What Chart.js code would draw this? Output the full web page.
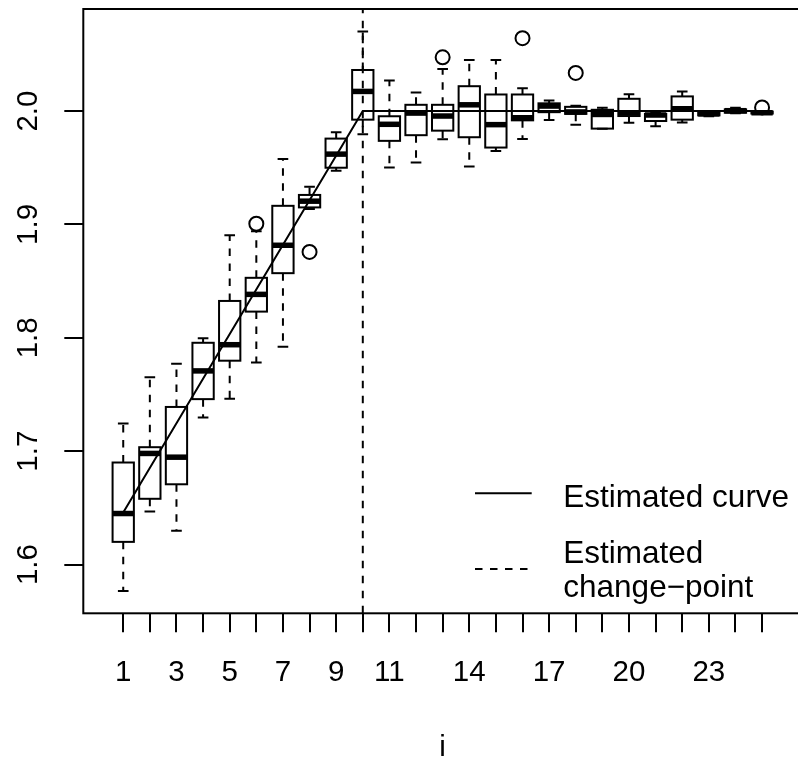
<!DOCTYPE html>
<html>
<head>
<meta charset="utf-8">
<script src="https://cdn.jsdelivr.net/npm/chart.js@4.4.0/dist/chart.umd.min.js"></script>
<style>
html, body { margin: 0; padding: 0; background: #fff; overflow: hidden; }
#wrap { width: 811px; height: 763px; }
</style>
</head>
<body>
<div id="wrap"><canvas id="cpChart" width="811" height="763"></canvas></div>
<script>
// box statistics per index i: lower whisker, Q1, median, Q3, upper whisker
var idx      = [1, 2, 3, 4, 5, 6, 7, 8, 9, 10, 11, 12, 13, 14, 15, 16, 17, 18, 19, 20, 21, 22, 23, 24, 25];
var whiskLo  = [1.5766, 1.6468, 1.6298, 1.7296, 1.7462, 1.7781, 1.7921, 1.9135, 1.9474, 1.9796, 1.9503, 1.9547, 1.9752,
                1.9511, 1.9647, 1.9754, 1.9920, 1.9880, 1.9843, 1.9897, 1.9866, 1.9898, 1.9955, 1.9980, 1.9975];
var q1       = [1.6200, 1.6580, 1.6708, 1.7459, 1.7798, 1.8231, 1.8570, 1.9150, 1.9500, 1.9924, 1.9737, 1.9787, 1.9827,
                1.9769, 1.9678, 1.9918, 1.9990, 1.9975, 1.9845, 1.9956, 1.9912, 1.9924, 1.9962, 1.9985, 1.9978];
var med      = [1.6450, 1.6980, 1.6947, 1.7708, 1.7939, 1.8383, 1.8816, 1.9205, 1.9620, 2.0173, 1.9883, 1.9982, 1.9956,
                2.0055, 1.9880, 1.9941, 2.0044, 1.9992, 1.9970, 1.9985, 1.9965, 2.0020, 1.9975, 2.0003, 1.9985];
var q3       = [1.6900, 1.7035, 1.7390, 1.7956, 1.8325, 1.8529, 1.9164, 1.9260, 1.9757, 2.0362, 1.9954, 2.0055, 2.0055,
                2.0219, 2.0146, 2.0146, 2.0068, 2.0037, 2.0011, 2.0108, 1.9975, 2.0129, 1.9985, 2.0015, 1.9995];
var whiskHi  = [1.7243, 1.7652, 1.7770, 1.7997, 1.8904, 1.8939, 1.9576, 1.9333, 1.9813, 2.0702, 2.0269, 2.0164, 2.0371,
                2.0450, 2.0450, 2.0202, 2.0094, 2.0047, 2.0030, 2.0149, 1.9985, 2.0172, 2.0000, 2.0029, 2.0000];
var outX     = [6, 8, 13, 16, 18, 25];
var outY     = [1.9006, 1.8757, 2.0474, 2.0643, 2.0336, 2.0032];

// fitted piecewise curve and change-point
var curveX = [1, 10, 25];
var curveY = [1.646, 2.0, 2.0];
var changePoint = 10;

var yTicks = [1.6, 1.7, 1.8, 1.9, 2.0];
var xTickLabels = [1, 3, 5, 7, 9, 11, 14, 17, 20, 23];
var legendLabels = [['Estimated curve'], ['Estimated', 'change\u2212point']];

var FONT = '"Liberation Sans", Arial, Helvetica, sans-serif';
var Y_MIN = 1.557, Y_MAX = 2.09;

var boxPlugin = {
    id: 'boxes',
    beforeDatasetsDraw: function(chart) {
        var ctx = chart.ctx, xs = chart.scales.x, ys = chart.scales.y;
        var half = xs.getPixelForValue(1.4) - xs.getPixelForValue(1);
        var cap = half / 2;
        ctx.save();
        ctx.strokeStyle = '#000';
        idx.forEach(function(v, k) {
            var cx = xs.getPixelForValue(v);
            var yLo = ys.getPixelForValue(whiskLo[k]), yQ1 = ys.getPixelForValue(q1[k]);
            var yMed = ys.getPixelForValue(med[k]), yQ3 = ys.getPixelForValue(q3[k]);
            var yHi = ys.getPixelForValue(whiskHi[k]);
            // dashed whiskers
            ctx.lineWidth = 2;
            ctx.setLineDash([7.5, 7.5]);
            ctx.beginPath();
            ctx.moveTo(cx, yQ3); ctx.lineTo(cx, yHi);
            ctx.moveTo(cx, yQ1); ctx.lineTo(cx, yLo);
            ctx.stroke();
            ctx.setLineDash([]);
            // staples
            ctx.beginPath();
            ctx.moveTo(cx - cap, yHi); ctx.lineTo(cx + cap, yHi);
            ctx.moveTo(cx - cap, yLo); ctx.lineTo(cx + cap, yLo);
            ctx.stroke();
            // box
            ctx.strokeRect(cx - half, yQ3, half * 2, yQ1 - yQ3);
            // median
            ctx.lineWidth = 5.5;
            ctx.beginPath();
            ctx.moveTo(cx - half, yMed); ctx.lineTo(cx + half, yMed);
            ctx.stroke();
        });
        ctx.restore();
    },
    afterDraw: function(chart) {
        var ctx = chart.ctx, ys = chart.scales.y, a = chart.chartArea;
        ctx.save();
        // plot frame
        ctx.strokeStyle = '#000';
        ctx.lineWidth = 2;
        ctx.strokeRect(a.left, a.top, a.right - a.left, a.bottom - a.top);
        // y tick labels, parallel to the axis
        ctx.fillStyle = '#000';
        ctx.font = '29.5px ' + FONT;
        ctx.textAlign = 'center';
        ctx.textBaseline = 'alphabetic';
        yTicks.forEach(function(v) {
            ctx.save();
            ctx.translate(36.7, ys.getPixelForValue(v));
            ctx.rotate(-Math.PI / 2);
            ctx.fillText(v.toFixed(1), 0, 0);
            ctx.restore();
        });
        // legend
        var lx = 475, lw = 56.7, tx = 563.3;
        ctx.font = '31.5px ' + FONT;
        ctx.textAlign = 'left';
        ctx.lineWidth = 2;
        ctx.beginPath();
        ctx.moveTo(lx, 493.3); ctx.lineTo(lx + lw, 493.3);
        ctx.stroke();
        ctx.fillText(legendLabels[0][0], tx, 506.7);
        ctx.setLineDash([7.5, 7.5]);
        ctx.beginPath();
        ctx.moveTo(lx, 569); ctx.lineTo(lx + lw, 569);
        ctx.stroke();
        ctx.setLineDash([]);
        ctx.fillText(legendLabels[1][0], tx, 563.3);
        ctx.fillText(legendLabels[1][1], tx, 596.7);
        ctx.restore();
    }
};

new Chart(document.getElementById('cpChart'), {
    type: 'scatter',
    data: {
        datasets: [
            {
                data: curveX.map(function(x, k) { return { x: x, y: curveY[k] }; }),
                showLine: true, borderColor: '#000', borderWidth: 2, pointRadius: 0, tension: 0
            },
            {
                data: [{ x: changePoint, y: Y_MIN }, { x: changePoint, y: Y_MAX }],
                showLine: true, borderColor: '#000', borderWidth: 2, borderDash: [7.5, 7.5], pointRadius: 0
            },
            {
                data: outX.map(function(x, k) { return { x: x, y: outY[k] }; }),
                pointStyle: 'circle', pointRadius: 7, borderColor: '#000', borderWidth: 2,
                backgroundColor: 'rgba(0,0,0,0)'
            }
        ]
    },
    options: {
        responsive: false,
        animation: false,
        layout: { padding: { top: 7.3, right: 2, bottom: 0, left: 0 } },
        plugins: { legend: { display: false }, tooltip: { enabled: false } },
        scales: {
            x: {
                type: 'linear', min: -0.5, max: 26.5,
                afterBuildTicks: function(s) { s.ticks = idx.map(function(v) { return { value: v }; }); },
                afterFit: function(s) { s.height = 149.7; s.paddingLeft = 0; s.paddingRight = 0; },
                border: { display: false },
                grid: { drawOnChartArea: false, drawTicks: true, tickLength: 19, color: '#000', lineWidth: 2 },
                ticks: {
                    autoSkip: false, maxRotation: 0, minRotation: 0, padding: 23, color: '#000',
                    font: { family: FONT, size: 29.5 },
                    callback: function(v) { return xTickLabels.indexOf(v) >= 0 ? String(v) : ''; }
                },
                title: { display: true, text: 'i', color: '#000', font: { family: FONT, size: 29.5, lineHeight: 1 }, padding: 0 }
            },
            y: {
                type: 'linear', min: Y_MIN, max: Y_MAX,
                afterBuildTicks: function(s) { s.ticks = yTicks.map(function(v) { return { value: v }; }); },
                afterFit: function(s) { s.width = 83.3; },
                border: { display: false },
                grid: { drawOnChartArea: false, drawTicks: true, tickLength: 19, color: '#000', lineWidth: 2 },
                ticks: { display: false }
            }
        }
    },
    plugins: [boxPlugin]
});
</script>
</body>
</html>
